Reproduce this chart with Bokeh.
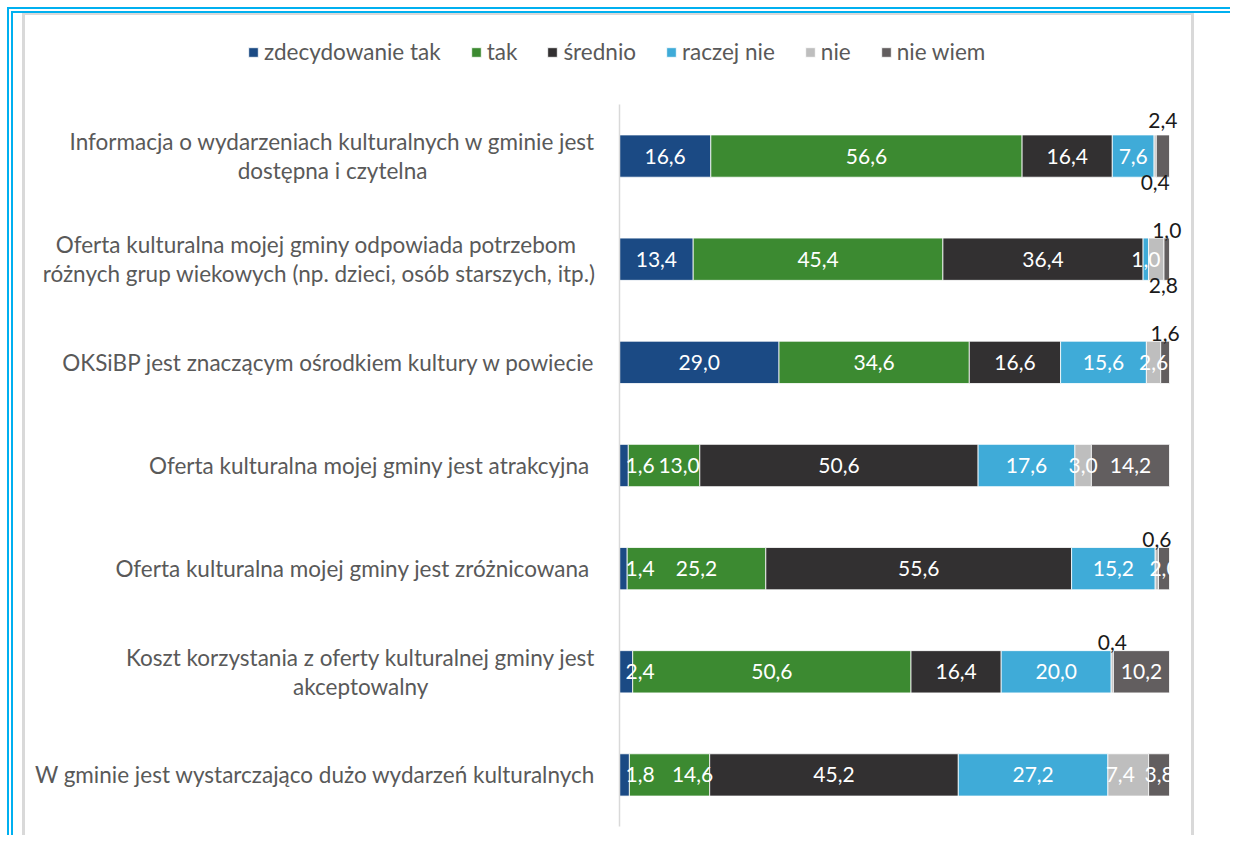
from bokeh.plotting import figure
from bokeh.models import ColumnDataSource, Range1d, Legend, LegendItem, Text
from bokeh.layouts import column
from bokeh.embed import file_html
from bokeh.resources import INLINE
from bokeh.core.properties import value

categories = [
    "Informacja o wydarzeniach kulturalnych w gminie jest\ndostępna i czytelna",
    "Oferta kulturalna mojej gminy  odpowiada potrzebom\nróżnych grup wiekowych (np. dzieci, osób starszych, itp.)",
    "OKSiBP jest znaczącym ośrodkiem kultury w powiecie",
    "Oferta kulturalna mojej gminy  jest atrakcyjna",
    "Oferta kulturalna mojej gminy  jest zróżnicowana",
    "Koszt korzystania z oferty kulturalnej gminy jest\nakceptowalny",
    "W gminie jest wystarczająco dużo wydarzeń kulturalnych",
]
series_names = ["zdecydowanie tak", "tak", "średnio", "raczej nie", "nie", "nie wiem"]
zdecydowanie_tak = [16.6, 13.4, 29.0, 1.6, 1.4, 2.4, 1.8]
tak = [56.6, 45.4, 34.6, 13.0, 25.2, 50.6, 14.6]
srednio = [16.4, 36.4, 16.6, 50.6, 55.6, 16.4, 45.2]
raczej_nie = [7.6, 1.0, 15.6, 17.6, 15.2, 20.0, 27.2]
nie = [0.4, 2.8, 2.6, 3.0, 0.6, 0.4, 7.4]
nie_wiem = [2.4, 1.0, 1.6, 14.2, 2.0, 10.2, 3.8]

series_values = [zdecydowanie_tak, tak, srednio, raczej_nie, nie, nie_wiem]
keys = ["s0", "s1", "s2", "s3", "s4", "s5"]
colors = ["#1B4A84", "#3C8A31", "#323031", "#3FABD8", "#BEBEBE", "#625E5F"]

# styling: label placement
outside = {(0, 4): "below", (0, 5): "above", (1, 4): "below", (1, 5): "above",
           (2, 5): "above", (4, 4): "above", (5, 4): "above"}
x_shift = {(3, 1): 15, (6, 1): 23, (6, 4): -8, (1, 4): 7}

FONT = "Lato"
SIZE = "22.5px"
NUM_SIZE = "21px"

n = len(categories)
ypos = [n - i - 0.5 for i in range(n)]          # top category first
data = dict(cat=categories, y=ypos)
for k, v in zip(keys, series_values):
    data[k] = v
src = ColumnDataSource(data)

# geometry (pixels)
W, H = 1172, 822
LEFT, TOP, BOTTOM = 594, 89, 11
PX_PER_UNIT = 5.5
row_px = (H - TOP - BOTTOM) / n

p = figure(width=W, height=H,
           x_range=Range1d(-LEFT / PX_PER_UNIT, (W - LEFT) / PX_PER_UNIT),
           y_range=Range1d(-BOTTOM / row_px, n + TOP / row_px),
           output_backend="svg", toolbar_location=None,
           min_border_left=0, min_border_right=0, min_border_top=0, min_border_bottom=0)
p.axis.visible = False
p.grid.grid_line_color = None
p.outline_line_color = None

renderers = p.hbar_stack(keys, y="y", height=0.41, color=colors, source=src,
                         line_color="white", line_width=0.8)

# category axis line
p.segment(x0=[0], y0=[0], x1=[0], y1=[n], line_color="#D9D9D9", line_width=1.5)

# category labels (right-aligned block, centred lines)
lab_kw = dict(text_align="center", text_baseline="middle", x_offset=-24,
              text_font=value(FONT), text_font_size=SIZE, text_color="#595959",
              text_line_height=1.07)
if "anchor" in Text.properties():
    lab_kw["anchor"] = "center_right"
else:
    lab_kw["text_align"] = "right"
p.text(x=[0] * n, y=ypos, text=categories, **lab_kw)

# value labels
groups = {}
for r in range(n):
    left = 0.0
    for s, vals in enumerate(series_values):
        v = vals[r]
        txt = f"{v:.1f}".replace(".", ",")
        pos = outside.get((r, s), "in")
        dx = x_shift.get((r, s), 0)
        if s == 0 and v < 3:
            kind = "base"
            x = 0.0
            dx = 6
        else:
            kind = pos
            x = left + v / 2
        if pos == "above":
            dy = -36 if r == 0 else -29
        elif pos == "below":
            dy = 26
        else:
            dy = 0
        g = groups.setdefault((kind, dx, dy), {"x": [], "y": [], "t": []})
        g["x"].append(x)
        g["y"].append(ypos[r])
        g["t"].append(txt)
        left += v

for (kind, dx, dy), g in groups.items():
    p.text(x=g["x"], y=g["y"], text=g["t"],
           text_align="left" if kind == "base" else "center",
           text_baseline="middle", x_offset=dx, y_offset=dy,
           text_font=value(FONT), text_font_size=NUM_SIZE,
           text_color="white" if kind in ("in", "base") else "#1A1A1A")

lg = Legend(items=[LegendItem(label=nm, renderers=[r]) for nm, r in zip(series_names, renderers)])
lg.orientation = "horizontal"
lg.location = (222, H - 50)
lg.label_text_font = FONT
lg.label_text_font_size = SIZE
lg.label_text_color = "#595959"
lg.glyph_width = 12
lg.glyph_height = 12
lg.label_standoff = 5
lg.spacing = 29
lg.padding = 0
lg.margin = 0
lg.border_line_color = None
lg.background_fill_alpha = 0
p.add_layout(lg, "center")

p.styles = {"border-left": "3px solid #D9D9D9", "border-top": "2px solid #D9D9D9",
            "border-right": "3px solid #D9D9D9"}
layout = column(p, margin=(7, 0, 0, 7),
                styles={"border-left": "6px double #00B0F0",
                        "border-top": "6px double #00B0F0",
                        "padding-left": "9px", "padding-right": "36px"})

open("out.html", "w").write(file_html(layout, INLINE))
